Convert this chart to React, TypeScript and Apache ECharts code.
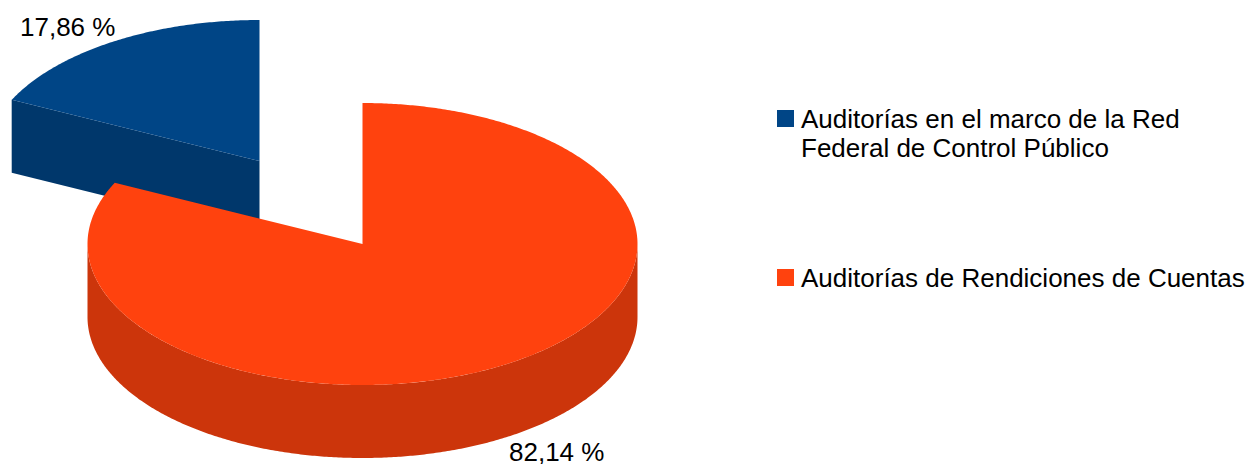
import React, { useEffect, useRef } from "react";
import * as echarts from "echarts";

const categories = ["Auditorías en el marco de la Red\nFederal de Control Público", "Auditorías de Rendiciones de Cuentas"];
const values = [17.86, 82.14];
const topColors = ["#004586", "#FF420E"];
const sideColors = ["#00376B", "#CC350B"];

const W = 1250, H = 464;
const RX = 275, RY = 141, DEPTH = 73;
const centers = [[259.5, 161], [362.5, 244]];
const labelPos = [[20, 27], [509, 451.5]];
const FONT = "'Liberation Sans', Arial, sans-serif";
const FS = 26;

// slices run clockwise from 12 o'clock; the large slice starts at the top
function sliceAngles(i: number) {
  const total = values[0] + values[1];
  const big = (values[1] / total) * 360;
  return i === 1 ? [0, big] : [big, 360];
}

function pt(c: number[], a: number, dy = 0) {
  const r = (a * Math.PI) / 180;
  return [c[0] + RX * Math.sin(r), c[1] - RY * Math.cos(r) + dy];
}
function rim(c: number[], a0: number, a1: number, dy = 0) {
  const n = Math.max(2, Math.ceil(Math.abs(a1 - a0) * 2));
  const pts: number[][] = [];
  for (let k = 0; k <= n; k++) pts.push(pt(c, a0 + ((a1 - a0) * k) / n, dy));
  return pts;
}

function makeRender(i: number) {
  return () => {
    const c = centers[i];
    const [a0, a1] = sliceAngles(i);
    const children: any[] = [];
    const wall = (points: number[][]) =>
      children.push({ type: "polygon", shape: { points }, style: { fill: sideColors[i] } });

    // radial face on the start side, when it faces the viewer
    if (a0 > 180 && a0 < 360) {
      wall([c, pt(c, a0), pt(c, a0, DEPTH), [c[0], c[1] + DEPTH]]);
    }
    // outer wall: the part of the rim between 90° and 270°
    const w0 = Math.max(a0, 90), w1 = Math.min(a1, 270);
    if (w1 > w0) {
      wall([...rim(c, w0, w1), ...rim(c, w1, w0, DEPTH)]);
    }
    // top face
    children.push({
      type: "polygon",
      shape: { points: [c, ...rim(c, a0, a1)] },
      style: { fill: topColors[i] },
    });
    children.push({
      type: "text",
      x: labelPos[i][0],
      y: labelPos[i][1],
      style: {
        text: values[i].toFixed(2).replace(".", ",") + " %",
        fill: "#000",
        font: `${FS}px ${FONT}`,
        lineHeight: 24,
        textAlign: "left",
        textVerticalAlign: "middle",
      },
    });
    return { type: "group", children };
  };
}

const legendBase = {
  orient: "vertical",
  left: 772,
  itemWidth: 17,
  itemHeight: 17,
  icon: "rect",
  selectedMode: false,
};
const legendText = { fontFamily: "'Liberation Sans'", fontSize: FS, color: "#000", lineHeight: 29, padding: [0, 0, 0, 2] };

export default function App() {
  const ref = useRef<HTMLDivElement>(null);
  useEffect(() => {
    document.body.style.margin = "0";
    const chart = echarts.init(ref.current!, null, { renderer: "svg" });
    chart.setOption({
      animation: false,
      backgroundColor: "#fff",
      legend: [
        {
          ...legendBase,
          top: 70,
          data: [categories[0]],
          // a blank first line centres the icon on the first written line
          formatter: (n: string) => "\n" + n,
          textStyle: legendText,
        },
        {
          ...legendBase,
          top: 258,
          data: [categories[1]],
          textStyle: legendText,
        },
      ],
      series: [0, 1].map((i) => ({
        type: "custom",
        name: categories[i],
        coordinateSystem: "none",
        silent: true,
        itemStyle: { color: topColors[i] },
        data: [values[i]],
        renderItem: makeRender(i),
      })),
    });
    return () => chart.dispose();
  }, []);
  return <div ref={ref} style={{ position: "fixed", left: 0, top: 0, width: W, height: H }} />;
}
